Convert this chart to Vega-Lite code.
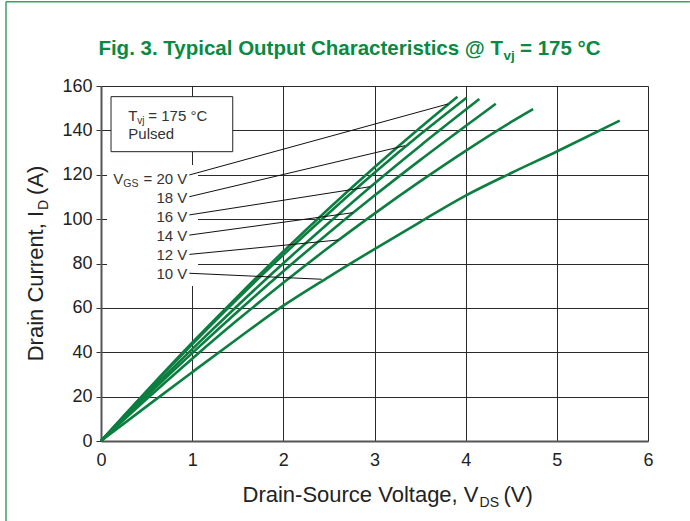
{
  "$schema": "https://vega.github.io/schema/vega-lite/v6.json",
  "width": 547,
  "height": 355,
  "autosize": {"type": "none"},
  "padding": {"left": 101, "top": 86, "right": 42, "bottom": 80},
  "background": "white",
  "config": {"view": {"stroke": null}, "font": "Liberation Sans"},
  "datasets": {
    "curves": [
      {"v": "20 V", "x": 0, "y": 0}, {"v": "20 V", "x": 0.5, "y": 22.5}, {"v": "20 V", "x": 1, "y": 44.3}, {"v": "20 V", "x": 1.5, "y": 65.2}, {"v": "20 V", "x": 2, "y": 85.4}, {"v": "20 V", "x": 2.5, "y": 104.8}, {"v": "20 V", "x": 3, "y": 123.4}, {"v": "20 V", "x": 3.5, "y": 141.2}, {"v": "20 V", "x": 3.91, "y": 155.2},
      {"v": "18 V", "x": 0, "y": 0}, {"v": "18 V", "x": 0.5, "y": 22.2}, {"v": "18 V", "x": 1, "y": 43.6}, {"v": "18 V", "x": 1.5, "y": 64.2}, {"v": "18 V", "x": 2, "y": 83.9}, {"v": "18 V", "x": 2.5, "y": 102.8}, {"v": "18 V", "x": 3, "y": 120.9}, {"v": "18 V", "x": 3.5, "y": 138.1}, {"v": "18 V", "x": 4.01, "y": 154.7},
      {"v": "16 V", "x": 0, "y": 0}, {"v": "16 V", "x": 0.5, "y": 21.0}, {"v": "16 V", "x": 1, "y": 41.4}, {"v": "16 V", "x": 1.5, "y": 61.1}, {"v": "16 V", "x": 2, "y": 80.1}, {"v": "16 V", "x": 2.5, "y": 98.4}, {"v": "16 V", "x": 3, "y": 116.1}, {"v": "16 V", "x": 3.5, "y": 133.0}, {"v": "16 V", "x": 4.15, "y": 154.1},
      {"v": "14 V", "x": 0, "y": 0}, {"v": "14 V", "x": 0.5, "y": 20.2}, {"v": "14 V", "x": 1, "y": 39.6}, {"v": "14 V", "x": 1.5, "y": 58.4}, {"v": "14 V", "x": 2, "y": 76.5}, {"v": "14 V", "x": 2.5, "y": 93.9}, {"v": "14 V", "x": 3, "y": 110.6}, {"v": "14 V", "x": 3.5, "y": 126.6}, {"v": "14 V", "x": 4, "y": 142.0}, {"v": "14 V", "x": 4.33, "y": 152.0},
      {"v": "12 V", "x": 0, "y": 0}, {"v": "12 V", "x": 0.5, "y": 18.9}, {"v": "12 V", "x": 1, "y": 37.1}, {"v": "12 V", "x": 1.5, "y": 54.6}, {"v": "12 V", "x": 2, "y": 71.3}, {"v": "12 V", "x": 2.5, "y": 87.3}, {"v": "12 V", "x": 3, "y": 102.5}, {"v": "12 V", "x": 3.5, "y": 117.0}, {"v": "12 V", "x": 4, "y": 130.8}, {"v": "12 V", "x": 4.5, "y": 143.8}, {"v": "12 V", "x": 4.74, "y": 149.6},
      {"v": "10 V", "x": 0, "y": 0}, {"v": "10 V", "x": 0.5, "y": 15.6}, {"v": "10 V", "x": 1, "y": 31.0}, {"v": "10 V", "x": 1.5, "y": 46.2}, {"v": "10 V", "x": 2, "y": 61.0}, {"v": "10 V", "x": 2.5, "y": 74.0}, {"v": "10 V", "x": 3, "y": 86.5}, {"v": "10 V", "x": 3.5, "y": 98.7}, {"v": "10 V", "x": 4, "y": 110.6}, {"v": "10 V", "x": 4.5, "y": 120.8}, {"v": "10 V", "x": 5, "y": 130.5}, {"v": "10 V", "x": 5.69, "y": 144.4}
    ],
    "leaders": [
      {"v": "20 V", "x": 0.969, "y": 119.9, "x2": 3.806, "y2": 151.9},
      {"v": "18 V", "x": 0.969, "y": 110.1, "x2": 3.334, "y2": 133.1},
      {"v": "16 V", "x": 0.969, "y": 101.9, "x2": 2.95, "y2": 114.6},
      {"v": "14 V", "x": 0.969, "y": 92.8, "x2": 2.761, "y2": 102.9},
      {"v": "12 V", "x": 0.969, "y": 84.1, "x2": 2.603, "y2": 90.6},
      {"v": "10 V", "x": 0.969, "y": 75.6, "x2": 2.421, "y2": 72.9}
    ],
    "vlabels": [
      {"t": "= 20 V", "x": 0.947, "y": 115.8},
      {"t": "18 V", "x": 0.947, "y": 107.1},
      {"t": "16 V", "x": 0.947, "y": 98.6},
      {"t": "14 V", "x": 0.947, "y": 90.1},
      {"t": "12 V", "x": 0.947, "y": 81.6},
      {"t": "10 V", "x": 0.947, "y": 73.0}
    ],
    "vgsPoint": [{"x": 0.135, "y": 115.8}],
    "mask": [{"x": 0.066, "x2": 1.064, "y": 69.9, "y2": 124.4}],
    "box": [{"x": 0.11, "x2": 1.445, "y": 130.4, "y2": 155.2}],
    "tvjPoint": [{"x": 0.3, "y": 144.4}],
    "pulsedPoint": [{"x": 0.3, "y": 136.0}],
    "titlePoint": [{"x": 4.41, "y": 173.97}],
    "xTitlePoint": [{"x": 4.141, "y": -27.7}],
    "yTitlePoint": [{"x": -0.633, "y": 103.7}],
    "frameLeft": [{"x": -1.042, "y": -36, "y2": 198}],
    "frameTop": [{"x": -1.042, "x2": 6.46, "y": 198}]
  },
  "encoding": {
    "x": {
      "field": "x", "type": "quantitative",
      "scale": {"domain": [0, 6], "nice": false, "zero": false},
      "axis": {"values": [0, 1, 2, 3, 4, 5, 6], "title": null, "grid": true, "gridColor": "#2a2a2a", "gridWidth": 1, "domainColor": "#555", "domainWidth": 2, "ticks": false, "labelFontSize": 18, "labelFont": "Liberation Sans", "labelColor": "#222", "labelPadding": 10, "labelFlush": false, "labelOverlap": false}
    },
    "y": {
      "field": "y", "type": "quantitative",
      "scale": {"domain": [0, 160], "nice": false, "zero": false},
      "axis": {"values": [0, 20, 40, 60, 80, 100, 120, 140, 160], "title": null, "grid": true, "gridColor": "#2a2a2a", "gridWidth": 1, "domainColor": "#555", "domainWidth": 2, "ticks": true, "tickSize": 5, "tickColor": "#333", "labelFontSize": 18, "labelFont": "Liberation Sans", "labelColor": "#222", "labelPadding": 4, "labelFlush": false, "labelOverlap": false}
    }
  },
  "layer": [
    {"data": {"name": "mask"}, "mark": {"type": "rect", "fill": "white", "strokeWidth": 0}, "encoding": {"x2": {"field": "x2"}, "y2": {"field": "y2"}}},
    {"data": {"name": "box"}, "mark": {"type": "rect", "fill": "white", "stroke": "#222", "strokeWidth": 1}, "encoding": {"x2": {"field": "x2"}, "y2": {"field": "y2"}}},
    {"data": {"name": "curves"}, "mark": {"type": "line", "color": "#0b7e40", "strokeWidth": 2.6, "interpolate": "monotone"}, "encoding": {"detail": {"field": "v"}}},
    {"data": {"name": "leaders"}, "mark": {"type": "rule", "color": "#111", "strokeWidth": 1}, "encoding": {"x2": {"field": "x2"}, "y2": {"field": "y2"}}},
    {"data": {"name": "vlabels"}, "mark": {"type": "text", "align": "right", "baseline": "alphabetic", "fontSize": 15, "color": "#333"}, "encoding": {"text": {"field": "t"}}},
    {"data": {"name": "vgsPoint"}, "mark": {"type": "text", "text": "V", "align": "left", "baseline": "alphabetic", "fontSize": 15, "color": "#333"}, "encoding": {}},
    {"data": {"name": "vgsPoint"}, "mark": {"type": "text", "text": "GS", "align": "left", "baseline": "alphabetic", "fontSize": 10.5, "dx": 10, "dy": 3, "color": "#333"}, "encoding": {}},
    {"data": {"name": "tvjPoint"}, "mark": {"type": "text", "text": "T", "align": "left", "baseline": "alphabetic", "fontSize": 15, "color": "#333"}, "encoding": {}},
    {"data": {"name": "tvjPoint"}, "mark": {"type": "text", "text": "vj", "align": "left", "baseline": "alphabetic", "fontSize": 10, "dx": 9, "dy": 3, "color": "#333"}, "encoding": {}},
    {"data": {"name": "tvjPoint"}, "mark": {"type": "text", "text": "= 175 °C", "align": "left", "baseline": "alphabetic", "fontSize": 15, "dx": 20, "color": "#333"}, "encoding": {}},
    {"data": {"name": "pulsedPoint"}, "mark": {"type": "text", "text": "Pulsed", "align": "left", "baseline": "alphabetic", "fontSize": 15, "color": "#333"}, "encoding": {}},
    {"data": {"name": "titlePoint"}, "mark": {"type": "text", "text": "Fig. 3. Typical Output Characteristics @ T", "align": "right", "baseline": "alphabetic", "fontSize": 20.5, "fontWeight": "bold", "color": "#078a43"}, "encoding": {}},
    {"data": {"name": "titlePoint"}, "mark": {"type": "text", "text": "vj", "align": "left", "baseline": "alphabetic", "fontSize": 13.5, "fontWeight": "bold", "dx": 0.5, "dy": 5, "color": "#078a43"}, "encoding": {}},
    {"data": {"name": "titlePoint"}, "mark": {"type": "text", "text": "= 175 °C", "align": "left", "baseline": "alphabetic", "fontSize": 20.5, "fontWeight": "bold", "dx": 17, "color": "#078a43"}, "encoding": {}},
    {"data": {"name": "xTitlePoint"}, "mark": {"type": "text", "text": "Drain-Source Voltage, V", "align": "right", "baseline": "alphabetic", "fontSize": 22, "color": "#222"}, "encoding": {}},
    {"data": {"name": "xTitlePoint"}, "mark": {"type": "text", "text": "DS", "align": "left", "baseline": "alphabetic", "fontSize": 14, "dx": 1, "dy": 5, "color": "#222"}, "encoding": {}},
    {"data": {"name": "xTitlePoint"}, "mark": {"type": "text", "text": "(V)", "align": "left", "baseline": "alphabetic", "fontSize": 22, "dx": 25, "color": "#222"}, "encoding": {}},
    {"data": {"name": "yTitlePoint"}, "mark": {"type": "text", "text": "Drain Current, I", "angle": 270, "align": "right", "baseline": "alphabetic", "fontSize": 22, "color": "#222"}, "encoding": {}},
    {"data": {"name": "yTitlePoint"}, "mark": {"type": "text", "text": "D", "angle": 270, "align": "left", "baseline": "alphabetic", "fontSize": 14, "dx": 1, "dy": 5, "color": "#222"}, "encoding": {}},
    {"data": {"name": "yTitlePoint"}, "mark": {"type": "text", "text": "(A)", "angle": 270, "align": "left", "baseline": "alphabetic", "fontSize": 22, "dx": 16, "color": "#222"}, "encoding": {}},
    {"data": {"name": "frameLeft"}, "mark": {"type": "rule", "color": "#3d9f66", "strokeWidth": 1.5}, "encoding": {"y2": {"field": "y2"}}},
    {"data": {"name": "frameTop"}, "mark": {"type": "rule", "color": "#3d9f66", "strokeWidth": 1.5}, "encoding": {"x2": {"field": "x2"}}}
  ]
}
